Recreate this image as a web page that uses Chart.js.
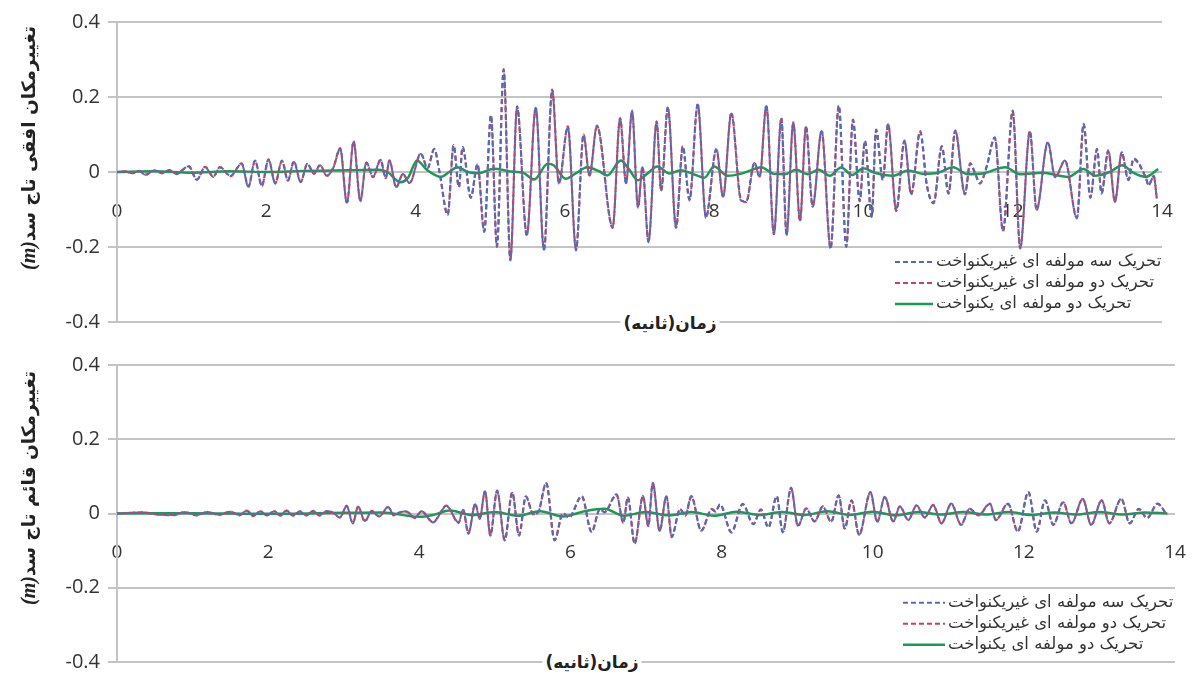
<!DOCTYPE html>
<html>
<head>
<meta charset="utf-8">
<script src="https://cdn.jsdelivr.net/npm/chart.js@4"></script>
<style>
  body { margin:0; background:#fff; }
  #wrap { position:relative; width:1192px; height:673px; overflow:hidden; background:#fff; }
  canvas { position:absolute; left:0; }
  .ytitle { position:absolute; transform:translate(-50%,-50%) rotate(-90deg); white-space:nowrap;
            font:bold 18.5px "DejaVu Sans", sans-serif; color:#222; direction:rtl; }
  .ytitle span { unicode-bidi:isolate; direction:ltr; font-style:italic; font-family:"Liberation Serif", serif; font-size:20px; }
  .xtitle { position:absolute; transform:translate(-50%,-50%); white-space:nowrap; background:#fff; padding:0 3px;
            font:bold 17px "DejaVu Sans", sans-serif; color:#222; direction:rtl; }
</style>
</head>
<body>
<div id="wrap">
  <canvas id="topChart" width="1192" height="340" style="top:0"></canvas>
  <canvas id="bottomChart" width="1192" height="333" style="top:340px"></canvas>
  <div class="ytitle" style="left:28px;top:148px">تغییرمکان افقی تاج سد<span>(m)</span></div>
  <div class="ytitle" style="left:28px;top:488px">تغییرمکان قائم تاج سد<span>(m)</span></div>
  <div class="xtitle" style="left:670px;top:323px">زمان(ثانیه)</div>
  <div class="xtitle" style="left:592px;top:662px">زمان(ثانیه)</div>
</div>
<script>
const seriesLabels = [
  "تحریک سه مولفه ای غیریکنواخت",
  "تحریک دو مولفه ای غیریکنواخت",
  "تحریک دو مولفه ای یکنواخت"
];
const xTicks = [0, 2, 4, 6, 8, 10, 12, 14];
const yTicks = [-0.4, -0.2, 0, 0.2, 0.4];

// top panel: horizontal crest displacement (m)
const topTime = [0,0.1,0.2,0.3,0.38,0.5,0.6,0.7,0.8,0.88,0.96,1.07,1.18,1.29,1.38,1.52,1.67,1.76,1.85,1.94,
  2.03,2.12,2.21,2.29,2.37,2.46,2.55,2.64,2.72,2.81,2.9,2.99,3.08,3.17,3.26,3.34,3.43,3.53,3.6,3.65,
  3.74,3.83,3.92,4.07,4.16,4.25,4.32,4.43,4.51,4.58,4.63,4.74,4.83,4.92,5.01,5.09,5.18,5.27,5.36,5.49,
  5.61,5.72,5.83,5.92,6.04,6.15,6.25,6.33,6.43,6.64,6.74,6.82,6.9,6.98,7.04,7.12,7.23,7.29,7.38,7.49,
  7.58,7.67,7.78,7.89,8.03,8.12,8.23,8.36,8.43,8.54,8.61,8.7,8.8,8.9,8.97,9.06,9.15,9.23,9.32,9.44,
  9.56,9.67,9.77,9.86,9.95,10.02,10.11,10.17,10.26,10.33,10.44,10.55,10.64,10.76,10.85,10.94,11.05,11.14,11.23,11.36,
  11.43,11.5,11.56,11.65,11.76,11.87,12.0,12.1,12.23,12.32,12.47,12.57,12.7,12.86,12.95,13.04,13.13,13.19,13.28,13.37,
  13.46,13.55,13.62,13.78,13.82,13.89,13.93];
const topThreeNonUni = [0,0.002,-0.004,0.003,-0.008,0.004,-0.003,0.005,-0.006,0.006,0.016,-0.02,0.013,-0.013,0.013,-0.01,0.022,-0.04,0.031,-0.036,
  0.033,-0.031,0.031,-0.022,0.027,-0.027,0.022,-0.004,0.018,-0.01,0.012,0.062,-0.084,0.08,-0.078,0.026,-0.013,0.033,-0.015,0.03,
  -0.04,-0.005,-0.03,0.05,0.01,0.062,0.0,-0.115,0.07,-0.04,0.067,-0.067,0.02,-0.16,0.15,-0.2,0.275,-0.236,0.173,-0.17,
  0.173,-0.209,0.218,-0.031,0.12,-0.209,0.098,-0.009,0.124,-0.147,0.142,-0.031,0.164,-0.093,0.013,-0.187,0.133,-0.049,0.173,-0.147,
  0.067,-0.076,0.182,-0.12,0.062,-0.067,0.156,-0.076,-0.078,0.025,-0.013,0.178,-0.164,0.142,-0.169,0.133,-0.129,0.12,-0.093,0.111,
  -0.204,0.178,-0.2,0.138,-0.076,0.084,-0.12,0.111,-0.022,0.129,-0.102,0.084,-0.058,0.107,-0.036,-0.084,0.067,-0.058,0.111,-0.058,
  0.022,-0.005,-0.031,0.013,0.093,-0.156,0.164,-0.204,0.107,-0.102,0.08,-0.013,0.031,-0.124,0.129,-0.067,0.062,-0.058,0.058,-0.08,
  0.053,-0.022,0.036,-0.013,-0.036,-0.01,-0.071];
const topTwoNonUni = [0,0.002,-0.003,0.003,-0.007,0.004,-0.003,0.005,-0.005,0.006,0.015,-0.021,0.014,-0.012,0.013,-0.011,0.023,-0.039,0.03,-0.037,
  0.034,-0.03,0.03,-0.023,0.028,-0.026,0.021,-0.005,0.019,-0.01,0.013,0.064,-0.082,0.082,-0.076,0.025,-0.014,0.032,-0.016,0.031,
  -0.041,-0.006,-0.029,0.048,0.011,0.06,0.001,-0.113,0.072,-0.041,0.066,-0.069,0.021,-0.158,0.152,-0.198,0.272,-0.234,0.175,-0.168,
  0.171,-0.207,0.22,-0.03,0.122,-0.206,0.1,-0.01,0.122,-0.149,0.144,-0.03,0.162,-0.095,0.014,-0.185,0.135,-0.05,0.171,-0.149,
  0.069,-0.074,0.18,-0.122,0.06,-0.066,0.158,-0.074,-0.08,0.024,-0.012,0.176,-0.166,0.144,-0.167,0.131,-0.131,0.122,-0.091,0.109,
  -0.202,0.176,-0.198,0.14,-0.078,0.082,-0.118,0.113,-0.02,0.127,-0.104,0.082,-0.06,0.109,-0.035,-0.082,0.069,-0.056,0.109,-0.06,
  0.024,-0.006,-0.03,0.014,0.091,-0.158,0.162,-0.202,0.109,-0.1,0.078,-0.014,0.03,-0.122,0.127,-0.069,0.06,-0.056,0.056,-0.078,
  0.051,-0.02,0.034,-0.014,-0.034,-0.012,-0.069];
const topUniTime = [0,0.5,1.0,1.5,2.0,2.5,2.9,3.2,3.5,3.62,3.8,3.9,4.02,4.15,4.34,4.45,4.56,4.7,4.85,5.05,
  5.25,5.45,5.59,5.77,5.85,6.01,6.15,6.3,6.45,6.57,6.75,6.85,6.98,7.1,7.24,7.4,7.55,7.7,7.87,8.0,
  8.18,8.35,8.5,8.63,8.8,8.95,9.1,9.25,9.4,9.55,9.7,9.85,10.0,10.15,10.4,10.6,10.8,11.0,11.2,11.4,
  11.6,11.9,12.1,12.4,12.74,12.95,13.1,13.3,13.47,13.6,13.78,13.95];
const topTwoUni = [0,0.002,-0.002,0.002,0.0,0.003,0.004,0.005,0.006,0.0,-0.027,-0.015,0.031,0.006,-0.013,0.0,0.013,0.0,-0.003,0.009,
  0.002,-0.003,-0.02,0.022,0.018,-0.018,-0.003,0.013,0.003,-0.009,0.031,0.01,-0.022,-0.005,0.015,-0.004,0.005,-0.004,-0.015,0.015,
  -0.01,-0.005,0.005,0.013,-0.005,-0.006,0.006,-0.006,0.006,-0.01,0.012,-0.008,0.01,-0.002,-0.01,0.004,-0.005,-0.002,0.013,-0.006,
  -0.004,0.013,-0.006,-0.002,-0.013,0.008,-0.01,0.0,0.018,0.0,-0.013,0.008];

// bottom panel: vertical crest displacement (m)
const bottomTime = [0,0.35,0.5,0.74,0.9,1.05,1.2,1.35,1.5,1.62,1.72,1.8,1.9,1.98,2.08,2.16,2.24,2.33,2.42,2.5,
  2.6,2.68,2.77,2.86,2.95,3.04,3.12,3.19,3.28,3.37,3.47,3.59,3.66,3.74,3.83,3.94,4.03,4.18,4.36,4.52,
  4.58,4.65,4.74,4.8,4.87,4.94,5.03,5.13,5.23,5.32,5.41,5.51,5.58,5.68,5.79,5.9,5.98,6.15,6.28,6.39,
  6.45,6.61,6.7,6.76,6.85,6.96,7.03,7.09,7.18,7.27,7.34,7.45,7.52,7.6,7.73,7.87,7.92,7.98,8.13,8.28,
  8.42,8.52,8.62,8.73,8.81,8.92,9.01,9.12,9.23,9.34,9.45,9.55,9.63,9.72,9.82,9.97,10.06,10.16,10.27,10.36,
  10.47,10.58,10.69,10.8,10.91,11.04,11.17,11.28,11.4,11.55,11.63,11.79,11.92,12.06,12.17,12.28,12.39,12.52,12.63,12.78,
  12.89,13.03,13.13,13.29,13.4,13.52,13.63,13.77,13.88];
const bottomThreeNonUni = [0,0.003,-0.002,-0.005,0.004,-0.004,0.004,-0.004,0.005,-0.004,0.008,-0.006,0.006,-0.005,0.007,-0.006,0.008,-0.005,0.006,-0.006,
  0.007,-0.005,0.007,0.002,-0.01,0.02,-0.027,0.019,-0.02,0.006,-0.008,0.018,-0.004,0.003,0.006,-0.011,0.006,-0.024,0.02,-0.024,
  0.01,-0.055,0.025,-0.015,0.061,-0.06,0.061,-0.073,0.056,-0.06,0.045,-0.002,0.006,0.083,-0.073,0.0,-0.01,0.047,-0.05,0.011,
  0.003,0.052,-0.024,0.043,-0.082,0.047,-0.033,0.083,-0.047,0.047,-0.064,0.011,-0.005,0.047,-0.047,0.011,0.005,0.025,-0.051,0.025,
  -0.029,0.01,-0.038,0.047,-0.051,0.07,-0.033,0.013,-0.022,0.018,-0.022,0.049,-0.04,0.036,-0.058,0.058,-0.022,0.045,-0.022,0.018,
  -0.018,0.022,-0.01,0.022,-0.027,0.027,-0.031,0.012,-0.004,0.027,-0.018,0.027,-0.049,0.058,-0.049,0.036,-0.031,0.031,-0.027,0.04,
  -0.031,0.036,-0.027,0.04,-0.027,0.013,-0.013,0.027,0.0];
const bottomTwoNonUni = [0,0.003,-0.002,-0.004,0.004,-0.005,0.004,-0.003,0.005,-0.005,0.008,-0.007,0.006,-0.005,0.006,-0.006,0.008,-0.006,0.006,-0.005,
  0.007,-0.006,0.006,0.002,-0.011,0.021,-0.026,0.018,-0.021,0.007,-0.008,0.017,-0.005,0.003,0.005,-0.012,0.006,-0.023,0.021,-0.025,
  0.011,-0.053,0.026,-0.014,0.06,-0.058,0.062,-0.071,0.057,-0.058,0.046,-0.003,0.007,0.081,-0.071,0.001,-0.011,0.046,-0.049,0.012,
  0.004,0.05,-0.025,0.044,-0.08,0.046,-0.034,0.081,-0.046,0.046,-0.062,0.012,-0.006,0.046,-0.046,0.012,0.006,0.024,-0.05,0.026,
  -0.028,0.011,-0.037,0.046,-0.05,0.068,-0.034,0.014,-0.021,0.019,-0.023,0.048,-0.041,0.035,-0.057,0.057,-0.023,0.044,-0.021,0.019,
  -0.017,0.021,-0.011,0.023,-0.026,0.026,-0.03,0.013,-0.005,0.026,-0.017,0.026,-0.048,0.057,-0.048,0.035,-0.03,0.03,-0.026,0.039,
  -0.03,0.035,-0.026,0.039,-0.026,0.012,-0.012,0.026,0.001];
const bottomUniTime = [0,1,2,3,3.5,4.0,4.2,4.4,4.7,5.0,5.3,5.6,5.9,6.2,6.45,6.7,7.0,7.3,7.6,7.9,
  8.2,8.5,8.8,9.1,9.4,9.7,10.0,10.3,10.6,10.9,11.2,11.5,11.8,12.1,12.4,12.7,13.0,13.3,13.6,13.9];
const bottomTwoUni = [0,0.001,-0.001,0.002,0.003,-0.009,-0.003,0.008,-0.004,0.004,-0.006,0.006,-0.008,0.007,0.013,-0.006,0.004,-0.005,0.004,-0.006,
  0.005,-0.004,0.004,-0.004,0.006,-0.004,0.005,-0.005,0.004,-0.003,0.004,-0.003,0.004,-0.004,0.003,-0.003,0.004,-0.003,0.003,0.0];

const COLORS = { three: "#4f6fb5", two: "#c8405c", uni: "#1a9a55", grid: "#c4c4c4", text: "#333" };

function pts(xs, ys){ return xs.map((x, i) => ({ x: x, y: ys[i] })); }

// legend drawn inside the plot, lower right, under the -0.2 grid line
const sideLegend = {
  id: "sideLegend",
  afterDraw(chart, args, opts){
    const ctx = chart.ctx;
    const x0 = chart.chartArea.right - opts.offsetX;
    let y = chart.scales.y.getPixelForValue(-0.2) + opts.offsetY;
    ctx.save();
    ctx.font = opts.font;
    ctx.textBaseline = "middle";
    ctx.direction = "rtl";
    ctx.textAlign = "left";
    chart.data.datasets.forEach(ds => {
      ctx.strokeStyle = ds.borderColor;
      ctx.lineWidth = ds.borderWidth;
      ctx.setLineDash(ds.borderDash || []);
      ctx.beginPath();
      ctx.moveTo(x0, y);
      ctx.lineTo(x0 + opts.sampleW, y);
      ctx.stroke();
      ctx.fillStyle = COLORS.text;
      ctx.fillText(ds.label, x0 + opts.sampleW + 3, y);
      y += opts.rowH;
    });
    ctx.restore();
  }
};

function makeChart(id, three, two, uniTime, uni, time, pad, legendOpts){
  const ctx = document.getElementById(id).getContext("2d");
  return new Chart(ctx, {
    type: "line",
    data: {
      datasets: [
        { label: seriesLabels[0], data: pts(time, three), borderColor: COLORS.three, borderWidth: 2,
          borderDash: [5, 3], pointRadius: 0, cubicInterpolationMode: "monotone" },
        { label: seriesLabels[1], data: pts(time, two), borderColor: COLORS.two, borderWidth: 2.2,
          borderDash: [5, 3], borderDashOffset: 3, pointRadius: 0, cubicInterpolationMode: "monotone" },
        { label: seriesLabels[2], data: pts(uniTime, uni), borderColor: COLORS.uni, borderWidth: 2.5,
          pointRadius: 0, cubicInterpolationMode: "monotone" }
      ]
    },
    options: {
      responsive: false,
      animation: false,
      events: [],
      layout: { padding: pad },
      plugins: { legend: { display: false }, tooltip: { enabled: false }, sideLegend: legendOpts },
      scales: {
        x: {
          type: "linear", min: 0, max: 14,
          position: { y: 0 },
          afterBuildTicks: s => { s.ticks = xTicks.map(v => ({ value: v })); },
          afterFit: s => { s.paddingLeft = 0; s.paddingRight = 0; s.paddingTop = 0; s.paddingBottom = 0; },
          grid: { display: false, drawTicks: false },
          border: { display: false },
          ticks: { padding: 28, color: COLORS.text, font: { family: "Open Sans", size: 19 }, maxRotation: 0,
                   callback: v => String(v) }
        },
        y: {
          min: -0.4, max: 0.4,
          afterBuildTicks: s => { s.ticks = yTicks.map(v => ({ value: v })); },
          afterFit: s => { s.width = 117; s.paddingTop = 0; s.paddingBottom = 0; s.paddingLeft = 0; s.paddingRight = 0; },
          grid: { color: COLORS.grid, lineWidth: 2, tickLength: 9 },
          border: { color: COLORS.grid, width: 2 },
          ticks: { padding: 8, color: COLORS.text, font: { family: "Open Sans", size: 20 },
                   callback: v => Math.abs(v) < 1e-9 ? "0" : v.toFixed(1) }
        }
      }
    },
    plugins: [sideLegend]
  });
}

makeChart("topChart", topThreeNonUni, topTwoNonUni, topUniTime, topTwoUni, topTime,
  { top: 22, bottom: 18, left: 0, right: 30 },
  { offsetX: 267, offsetY: 15, rowH: 21, sampleW: 38, font: '16.5px "DejaVu Sans"' });

makeChart("bottomChart", bottomThreeNonUni, bottomTwoNonUni, bottomUniTime, bottomTwoUni, bottomTime,
  { top: 25, bottom: 11, left: 0, right: 17 },
  { offsetX: 272, offsetY: 15, rowH: 21, sampleW: 42, font: '16.5px "DejaVu Sans"' });
</script>
</body>
</html>
